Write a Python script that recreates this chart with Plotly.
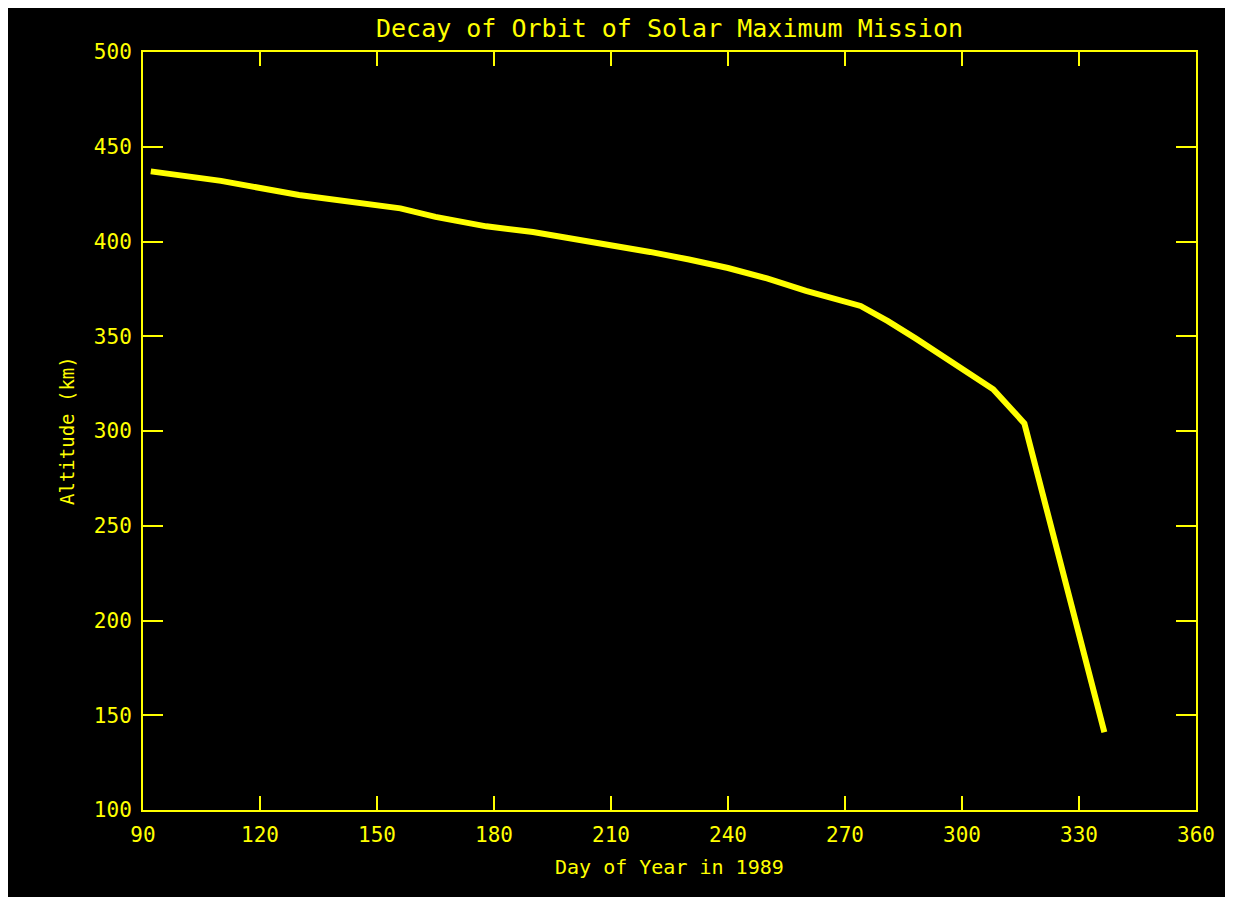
import plotly.graph_objects as go

# Data
days = [92, 110, 130, 150, 156, 165, 178, 190, 200, 210, 220, 230, 240, 250, 260, 274, 281, 288, 300, 308, 316, 336.5]
altitude = [437, 432, 424.5, 419, 417.5, 413, 408, 405, 401.5, 398.5, 394.5, 390.5, 386, 380.5, 374, 366, 358, 349, 333, 322, 304, 141]

x_ticks = [90, 120, 150, 180, 210, 240, 270, 300, 330, 360]
y_ticks = [100, 150, 200, 250, 300, 350, 400, 450, 500]

YEL = "#ffff00"
FONT = "DejaVu Sans Mono"

W, H = 1233, 897
ML, MR, MT, MB = 135, 45, 44, 95
PW, PH = W - ML - MR, H - MT - MB

fig = go.Figure()
fig.add_trace(go.Scatter(x=days, y=altitude, mode="lines",
                         line=dict(color=YEL, width=6), showlegend=False,
                         hoverinfo="skip"))

axis_common = dict(showline=True, linecolor=YEL, linewidth=2, mirror="ticks",
                   ticks="inside", tickcolor=YEL, tickwidth=2,
                   showgrid=False, zeroline=False,
                   tickfont=dict(family=FONT, size=21, color=YEL))

fig.update_xaxes(range=[90, 360], tickvals=x_ticks, ticktext=[str(v) for v in x_ticks],
                 ticklen=14, ticklabelstandoff=5, **axis_common)
fig.update_yaxes(range=[100, 500], tickvals=y_ticks, ticktext=[str(v) for v in y_ticks],
                 ticklen=20, ticklabelstandoff=5, **axis_common)

annotations = [
    dict(text="Decay of Orbit of Solar Maximum Mission", xref="paper", yref="paper",
         x=0.5, y=(H - MB - 21) / PH, xanchor="center", yanchor="middle", showarrow=False,
         font=dict(family=FONT, size=25, color=YEL)),
    dict(text="Day of Year in 1989", xref="paper", yref="paper",
         x=0.5, y=(H - MB - 859) / PH, xanchor="center", yanchor="middle", showarrow=False,
         font=dict(family=FONT, size=20, color=YEL)),
    dict(text="Altitude (km)", xref="paper", yref="paper",
         x=(59 - ML) / PW, y=0.5, xanchor="center", yanchor="middle", showarrow=False,
         textangle=-90, font=dict(family=FONT, size=19, color=YEL)),
]

fig.update_layout(width=W, height=H, margin=dict(l=ML, r=MR, t=MT, b=MB),
                  paper_bgcolor="black", plot_bgcolor="black",
                  annotations=annotations)

fig.write_html("out.html")
